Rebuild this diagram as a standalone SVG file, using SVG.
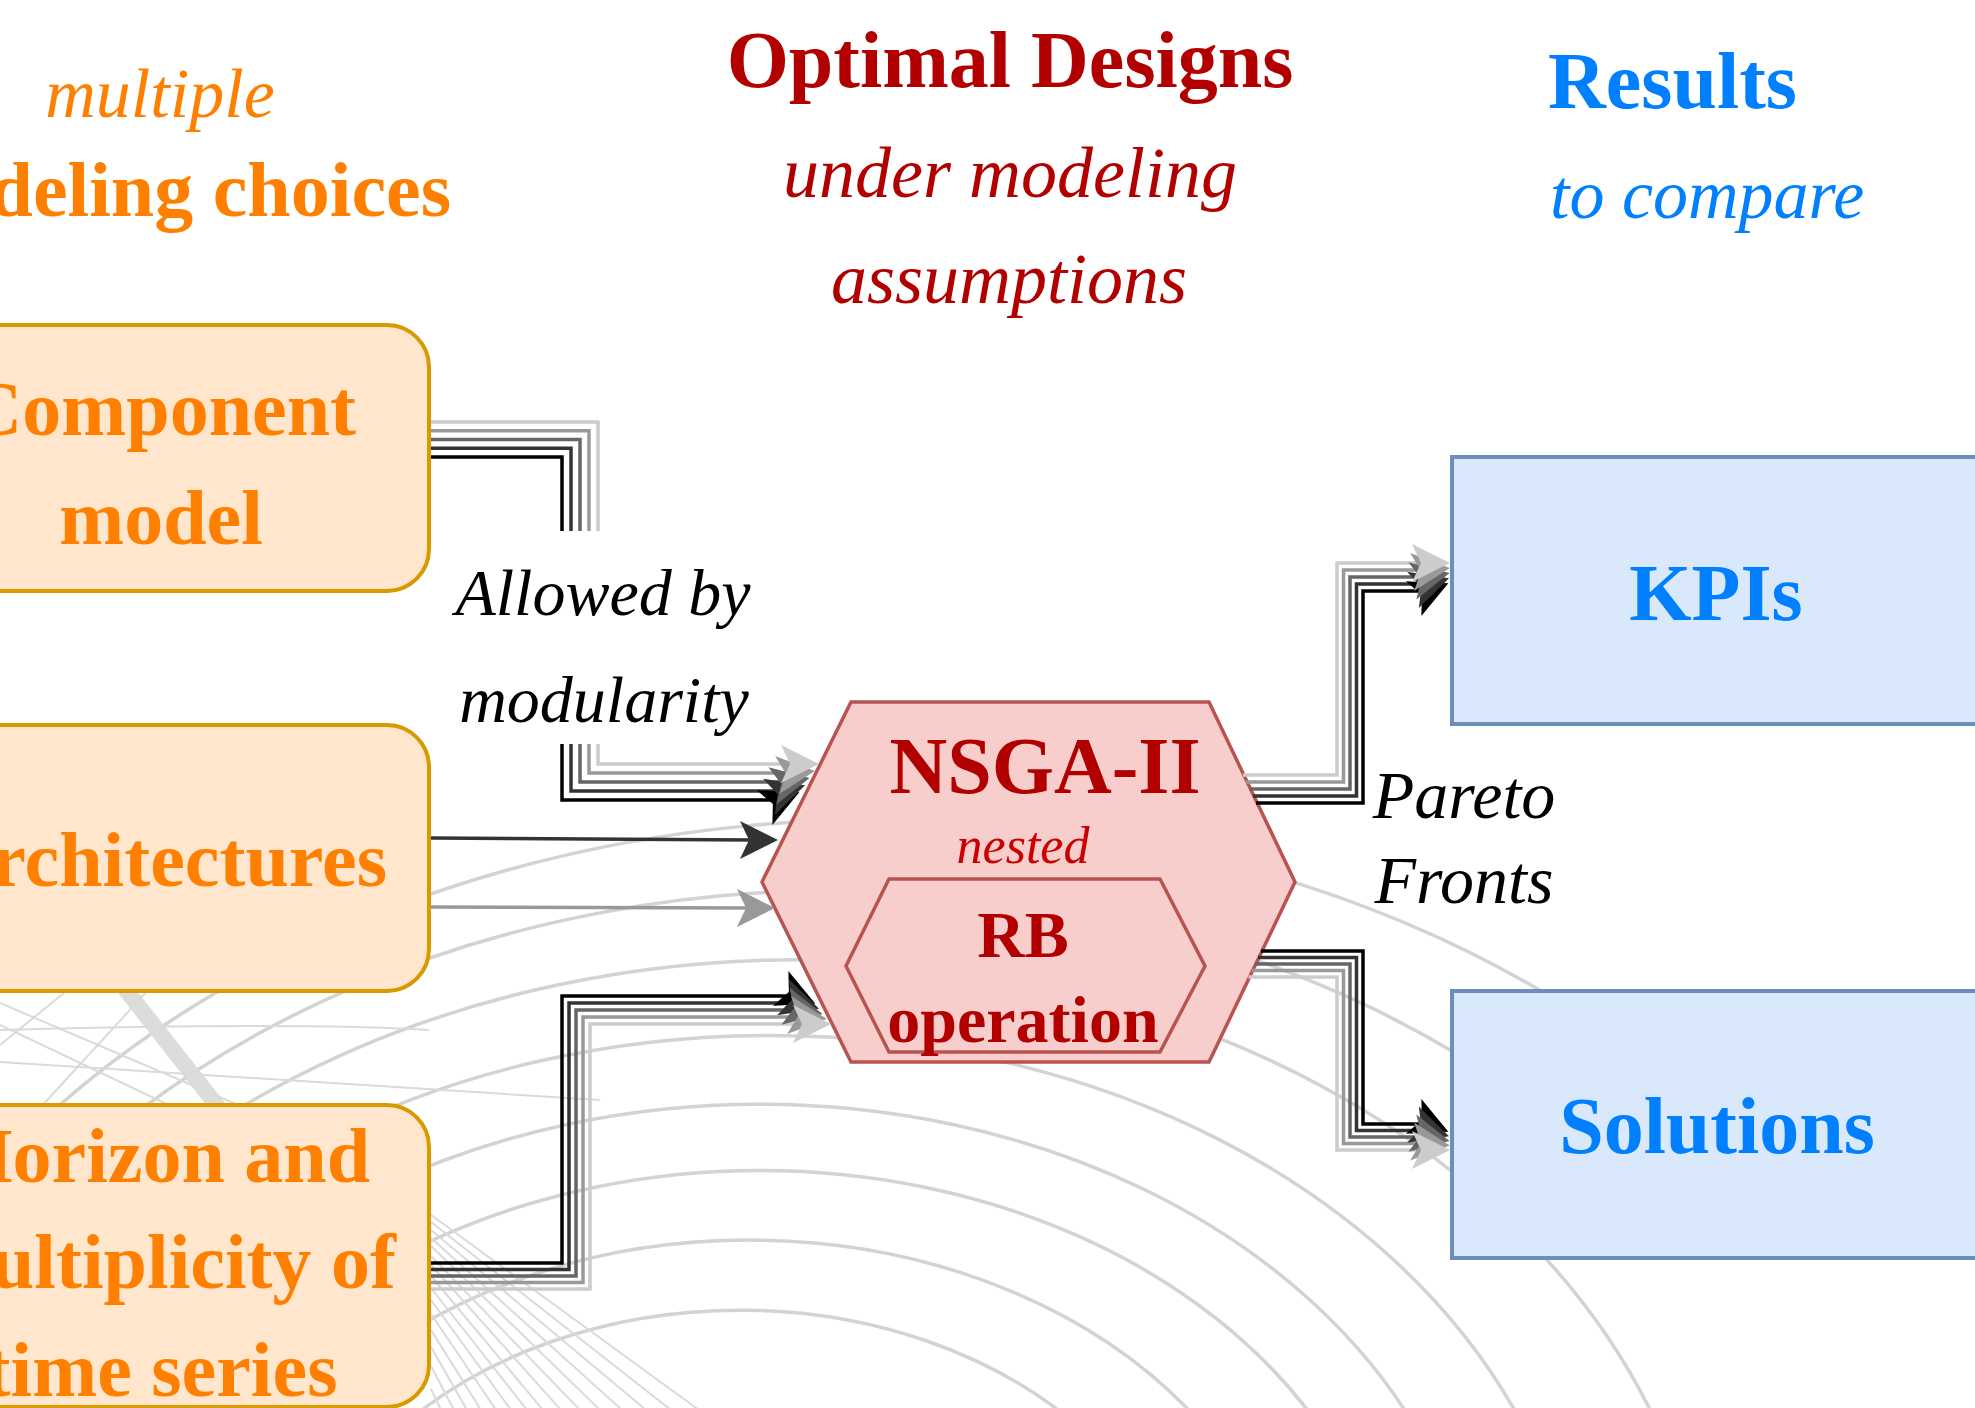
<svg xmlns="http://www.w3.org/2000/svg" width="1975" height="1408" viewBox="0 0 1975 1408">
<style>
  text { font-family: "Liberation Serif", "Times New Roman", serif; }
  .b { font-weight: bold; }
  .i { font-style: italic; }
  .m { text-anchor: middle; }
  .orange { fill: #FF8000; }
  .red { fill: #B20000; }
  .red2 { fill: #CC0000; }
  .blue { fill: #007FFF; }
  .black { fill: #000000; }
  .choice { fill: #FFE6CC; stroke: #D79B00; stroke-width: 4; }
  .result { fill: #DAE8FC; stroke: #6C8EBF; stroke-width: 4; }
  .hex { fill: #F8CECC; stroke: #B85450; stroke-width: 3.5; }
  .bg path { fill: none; stroke: #d3d3d3; stroke-width: 3.5; }
  .bg path.thin { stroke: #dadada; stroke-width: 2; }
  .bg path.band { stroke: #dcdcdc; stroke-width: 16; }
  .wire { fill: none; stroke-width: 3.5; stroke-linejoin: miter; }
  .c0 { stroke: #000000; } .f0 { fill: #000000; }
  .c1 { stroke: #333333; } .f1 { fill: #333333; }
  .c2 { stroke: #666666; } .f2 { fill: #666666; }
  .c3 { stroke: #999999; } .f3 { fill: #999999; }
  .c4 { stroke: #CCCCCC; } .f4 { fill: #CCCCCC; }
</style>
<defs>
  <path id="ah" d="M19,0 L-19,-19 L-10,0 L-19,19 Z"/>
</defs>
<rect x="0" y="0" width="1975" height="1408" fill="#FFFFFF"/>

<!-- faint background drawing -->
<g id="background" class="bg">
  <path d="M409,1420 A455,350 0 0 1 1071,1420"/>
  <path d="M302,1420 A546,420 0 0 1 1198,1420"/>
  <path d="M205,1420 A637,490 0 0 1 1315,1420"/>
  <path d="M109,1420 A721.5,555 0 0 1 1411,1420"/>
  <path d="M20,1420 A812.5,625 0 0 1 1520,1420"/>
  <path d="M-55,1420 A910,700 0 0 1 1655,1420"/>
  <path d="M-111,1420 A1001,770 0 0 1 1540,1110"/>
  <path d="M-20,1184 A1092,840 0 0 1 1600,1028"/>
  <path class="band" d="M122,985 L222,1112"/>
  <path class="thin" d="M0,1003 L250,1110"/>
  <path class="thin" d="M0,1025 L175,1108"/>
  <path class="thin" d="M70,988 L0,1045"/>
  <path class="thin" d="M150,988 L40,1108"/>
  <path class="thin" d="M0,1030 Q300,1022 429,1030"/>
  <path class="thin" d="M0,1062 L600,1100"/>
  <path class="thin" d="M431,1215 L699,1410"/>
  <path class="thin" d="M431,1222 L671,1410"/>
  <path class="thin" d="M431,1230 L646,1410"/>
  <path class="thin" d="M431,1238 L622,1410"/>
  <path class="thin" d="M431,1246 L600,1410"/>
  <path class="thin" d="M431,1256 L580,1410"/>
  <path class="thin" d="M431,1265 L561,1410"/>
  <path class="thin" d="M431,1276 L543,1410"/>
  <path class="thin" d="M431,1288 L527,1410"/>
  <path class="thin" d="M431,1300 L511,1410"/>
  <path class="thin" d="M431,1314 L496,1410"/>
  <path class="thin" d="M431,1330 L481,1410"/>
  <path class="thin" d="M431,1347 L467,1410"/>
  <path class="thin" d="M431,1366 L454,1410"/>
  <path class="thin" d="M431,1389 L441,1410"/>
</g>

<!-- header texts -->
<g id="header-choices">
  <text class="i m orange" x="160" y="117" font-size="70">multiple</text>
  <text class="b orange" x="451" y="216" font-size="78" text-anchor="end">Modeling choices</text>
</g>
<g id="header-designs">
  <text class="b m red" x="1010" y="87" font-size="80">Optimal Designs</text>
  <text class="i m red" x="1010" y="197" font-size="72">under modeling</text>
  <text class="i m red" x="1009" y="303" font-size="72">assumptions</text>
</g>
<g id="header-results">
  <text class="b blue" x="1548" y="108" font-size="80">Results</text>
  <text class="i blue" x="1550" y="218" font-size="70">to compare</text>
</g>

<!-- nodes -->
<g id="component-model">
  <rect class="choice" x="-110" y="325" width="539" height="266" rx="42"/>
  <text class="b m orange" x="161" y="435" font-size="78">Component</text>
  <text class="b m orange" x="161" y="544" font-size="78">model</text>
</g>
<g id="architectures">
  <rect class="choice" x="-110" y="725" width="539" height="266" rx="42"/>
  <text class="b m orange" x="161" y="886" font-size="78">Architectures</text>
</g>
<g id="horizon">
  <rect class="choice" x="-110" y="1105" width="539" height="302" rx="42"/>
  <text class="b m orange" x="161" y="1182" font-size="78">Horizon and</text>
  <text class="b m orange" x="161" y="1288" font-size="78">multiplicity of</text>
  <text class="b m orange" x="161" y="1396" font-size="78">time series</text>
</g>
<g id="nsga">
  <polygon class="hex" points="851,702 1209,702 1295,882 1209,1062 851,1062 762,882"/>
  <text class="b m red" x="1045" y="793" font-size="80">NSGA-II</text>
  <text class="i m red2" x="1023" y="863" font-size="52">nested</text>
  <g id="rb-operation">
    <polygon class="hex" fill="none" style="fill:none" points="889,879 1160,879 1205,966 1160,1052 889,1052 846,966"/>
    <text class="b m red" x="1023" y="957" font-size="66">RB</text>
    <text class="b m red" x="1023" y="1042" font-size="66">operation</text>
  </g>
</g>
<g id="kpis">
  <rect class="result" x="1452" y="457" width="560" height="267"/>
  <text class="b m blue" x="1716" y="620" font-size="80">KPIs</text>
</g>
<g id="solutions">
  <rect class="result" x="1452" y="991" width="560" height="267"/>
  <text class="b m blue" x="1717" y="1153" font-size="80">Solutions</text>
</g>

<!-- connectors -->
<g id="connectors">
  <!-- component model -> NSGA-II -->
  <path class="wire c0" d="M431,457 H562 V800 H775"/>
  <path class="wire c1" d="M431,448.25 H571 V791 H780"/>
  <path class="wire c2" d="M431,439.5 H580 V782 H784"/>
  <path class="wire c3" d="M431,430.75 H589 V773 H789"/>
  <path class="wire c4" d="M431,422 H598 V764 H793"/>
  <!-- architectures -> NSGA-II -->
  <path class="wire c1" stroke-width="3" d="M431,838 L752,840"/>
  <path class="wire c3" stroke-width="3" d="M431,907 L749,908"/>
  <!-- horizon -> NSGA-II -->
  <path class="wire c0" d="M431,1263 H562 V996 H791"/>
  <path class="wire c1" d="M431,1269.5 H569 V1003 H794"/>
  <path class="wire c2" d="M431,1276 H576 V1010 H797"/>
  <path class="wire c3" d="M431,1282.5 H583 V1017 H801"/>
  <path class="wire c4" d="M431,1289 H590 V1024 H805"/>
  <!-- NSGA-II -> KPIs -->
  <path class="wire c0" d="M1256,803 H1363 V591 H1424"/>
  <path class="wire c1" d="M1253,796 H1356.5 V584 H1424"/>
  <path class="wire c2" d="M1249.5,789 H1350 V577 H1424"/>
  <path class="wire c3" d="M1246,782 H1343.5 V570 H1424"/>
  <path class="wire c4" d="M1243,775 H1337 V563 H1424"/>
  <!-- NSGA-II -> Solutions -->
  <path class="wire c0" d="M1261,951 H1363 V1124 H1424"/>
  <path class="wire c1" d="M1258,957.5 H1356.5 V1130.5 H1424"/>
  <path class="wire c2" d="M1255,964 H1350 V1137 H1424"/>
  <path class="wire c3" d="M1252,970.5 H1343.5 V1143.5 H1424"/>
  <path class="wire c4" d="M1248.5,977 H1337 V1150 H1424"/>

  <!-- arrowheads -->
  <use href="#ah" class="f0" transform="translate(782,800) rotate(-24)"/>
  <use href="#ah" class="f1" transform="translate(787,791) rotate(-18)"/>
  <use href="#ah" class="f2" transform="translate(791,782) rotate(-12)"/>
  <use href="#ah" class="f3" transform="translate(796,773) rotate(-6)"/>
  <use href="#ah" class="f4" transform="translate(800,764)"/>

  <use href="#ah" class="f1" transform="translate(759,840)"/>
  <use href="#ah" class="f3" transform="translate(756,908)"/>

  <use href="#ah" class="f0" transform="translate(798,996) rotate(24)"/>
  <use href="#ah" class="f1" transform="translate(801,1003) rotate(18)"/>
  <use href="#ah" class="f2" transform="translate(804,1010) rotate(12)"/>
  <use href="#ah" class="f3" transform="translate(808,1017) rotate(6)"/>
  <use href="#ah" class="f4" transform="translate(812,1024)"/>

  <use href="#ah" class="f0" transform="translate(1431,591) rotate(-24)"/>
  <use href="#ah" class="f1" transform="translate(1431,584) rotate(-18)"/>
  <use href="#ah" class="f2" transform="translate(1431,577) rotate(-12)"/>
  <use href="#ah" class="f3" transform="translate(1431,570) rotate(-6)"/>
  <use href="#ah" class="f4" transform="translate(1431,563)"/>

  <use href="#ah" class="f0" transform="translate(1431,1124) rotate(24)"/>
  <use href="#ah" class="f1" transform="translate(1431,1130.5) rotate(18)"/>
  <use href="#ah" class="f2" transform="translate(1431,1137) rotate(12)"/>
  <use href="#ah" class="f3" transform="translate(1431,1143.5) rotate(6)"/>
  <use href="#ah" class="f4" transform="translate(1431,1150)"/>

  <!-- edge labels -->
  <g id="label-modularity">
    <rect x="448" y="531" width="312" height="213" fill="#FFFFFF"/>
    <text class="i m black" x="603" y="615" font-size="66">Allowed by</text>
    <text class="i m black" x="604" y="722" font-size="66">modularity</text>
  </g>
  <g id="label-pareto">
    <text class="i m black" x="1464" y="818" font-size="68">Pareto</text>
    <text class="i m black" x="1464" y="903" font-size="68">Fronts</text>
  </g>
</g>
</svg>
